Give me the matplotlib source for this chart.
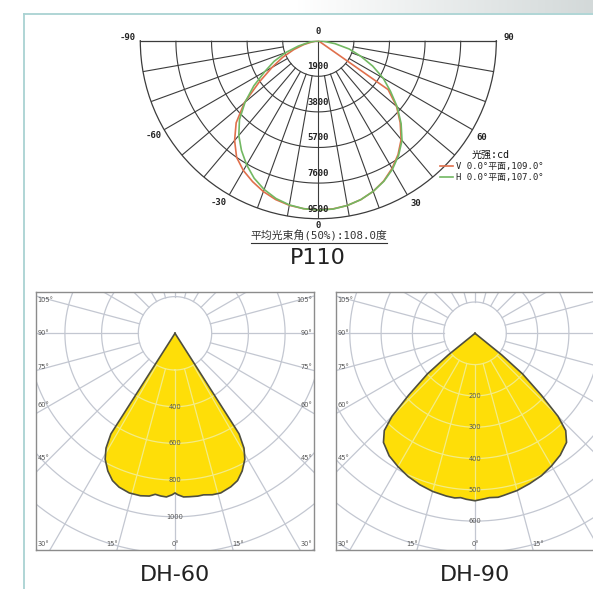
import numpy as np
import matplotlib
matplotlib.use("Agg")
import matplotlib.pyplot as plt
from matplotlib.lines import Line2D
from matplotlib.colors import LinearSegmentedColormap

# ---------------- data ----------------
p110_angles = [-90, -85, -80, -75, -70, -65, -60, -55, -50, -45, -40, -35, -30, -25, -20, -15, -10, -5, 0,
               5, 10, 15, 20, 25, 30, 35, 40, 45, 50, 55, 60, 65, 70, 75, 80, 85, 90]
p110_v = [0, 0, 300, 800, 1400, 2100, 2850, 3850, 5150, 6200, 6950, 7600, 8000, 8300, 8570, 8780, 8920, 9000, 9030,
          9010, 8930, 8780, 8560, 8260, 7870, 7420, 6880, 6180, 5450, 4550, 0, 0, 0, 0, 0, 0, 0]
p110_h = [0, 100, 500, 1100, 1850, 2600, 3300, 4200, 5100, 5950, 6600, 7150, 7650, 8100, 8450, 8720, 8900, 9000, 9040,
          9020, 8930, 8780, 8560, 8280, 7920, 7470, 6950, 6250, 5500, 4700, 4000, 3200, 2400, 1700, 900, 250, 0]
p110_rings = [1900, 3800, 5700, 7600, 9500]
p110_angle_labels = ["-90", "-60", "-30", "0", "30", "60", "90"]
p110_legend_title = "光强:cd"
p110_legend = ["V 0.0°平面,109.0°", "H 0.0°平面,107.0°"]
p110_beam = "平均光束角(50%):108.0度"

dh60_angles = [-33, -32.5, -31, -29, -26, -23, -20, -16, -12, -9, -7, -5, -3, -1, 0,
               1, 3, 5, 8, 10, 13, 16, 20, 23, 26, 29, 31, 32.5, 33]
dh60_cd = [0, 650, 730, 785, 835, 872, 892, 905, 905, 898, 884, 890, 893, 880, 870,
           880, 893, 894, 896, 894, 903, 905, 890, 872, 835, 785, 730, 650, 0]
dh60_rings = [200, 400, 600, 800, 1000, 1200, 1400]
dh60_ring_labels = [400, 600, 800, 1000]

dh90_angles = [-52, -51, -49.5, -47, -45, -43, -40, -35, -30, -25, -20, -15, -10, -7, -5, -3, 0,
               3, 5, 8, 10, 15, 20, 25, 30, 35, 40, 43, 45, 47, 49.5, 51, 52]
dh90_cd = [0, 110, 200, 290, 375, 425, 455, 478, 492, 505, 515, 523, 528, 530, 527, 531, 535,
           530, 527, 529, 526, 520, 511, 502, 489, 475, 455, 425, 375, 290, 200, 110, 0]
dh90_rings = [100, 200, 300, 400, 500, 600, 700, 800]
dh90_ring_labels = [200, 300, 400, 500, 600]

side_angles = [105, 90, 75, 60, 45]
bottom_angles = [-30, -15, 0, 15, 30]

# ---------------- figure ----------------
W, H = 593, 589
fig = plt.figure(figsize=(W / 100, H / 100), dpi=100)
fig.patch.set_facecolor("white")


def fx(x):
    return x / W


def fy(y):
    return 1 - y / H


# top gradient banner
axbg = fig.add_axes([0, fy(13.5), 1, 13.5 / H])
grad = np.clip((np.linspace(0, 1, 593) - 0.5) / 0.5, 0, 1)[None, :]
cmap = LinearSegmentedColormap.from_list("g", ["#ffffff", "#d3d9d9"])
axbg.imshow(grad, aspect="auto", cmap=cmap, vmin=0, vmax=1)
axbg.axis("off")
fig.add_artist(Line2D([fx(24), fx(593)], [fy(13.8), fy(13.8)], color="#a9d2d2", lw=1.3))
fig.add_artist(Line2D([fx(24.5), fx(24.5)], [fy(13.8), fy(589)], color="#a9d2d2", lw=1.3))

# ---------------- P110 polar ----------------
cx, cy, R = 318.3, 40.7, 178.0
# square box; the half-disk wedge is centred vertically inside it
box_cy = cy + R / 2
axp = fig.add_axes([fx(cx - R), fy(box_cy + R), 2 * R / W, 2 * R / H], projection="polar")
axp.set_theta_zero_location("S")
axp.set_thetamin(-90)
axp.set_thetamax(90)
axp.set_ylim(0, p110_rings[-1])
axp.grid(False)
axp.set_xticks([])
axp.set_yticks([])
axp.patch.set_alpha(0)
gcol = "#3c3c3c"
for sp in axp.spines.values():
    sp.set_color(gcol)
    sp.set_linewidth(0.9)

t = np.linspace(-np.pi / 2, np.pi / 2, 181)
for r in p110_rings[:-1]:
    axp.plot(t, np.full_like(t, r), color=gcol, lw=0.8)
for a in range(-80, 81, 10):
    r0 = 0 if a == 0 else p110_rings[0]
    axp.plot([np.deg2rad(a)] * 2, [r0, p110_rings[-1]], color=gcol, lw=0.8)

red, green = "#e0704c", "#72b862"
axp.plot(np.deg2rad(p110_angles), p110_v, color=red, lw=1.2, zorder=5)
axp.plot(np.deg2rad(p110_angles), p110_h, color=green, lw=1.2, zorder=5)

mono = ["DejaVu Sans Mono", "Noto Sans CJK SC"]
for r in p110_rings:
    axp.text(0, r - 510, str(r), ha="center", va="center", fontsize=6.5,
             family=mono, weight="bold", color="#222222", zorder=6)

label_pos = {"-90": (-91.1, 10150), "-60": (-60, 10150), "-30": (-31.5, 10150),
             "30": (31, 10120), "60": (59.5, 10150), "90": (91.1, 10150)}
for lab in p110_angle_labels:
    if lab == "0":
        axp.text(np.pi, 470, lab, ha="center", va="center", fontsize=6.5, family=mono,
                 weight="bold", color="#222222", clip_on=False)
        axp.text(0, 9880, lab, ha="center", va="center", fontsize=6.5, family=mono,
                 weight="bold", color="#222222", clip_on=False)
    else:
        a, r = label_pos[lab]
        axp.text(np.deg2rad(a), r, lab, ha="center", va="center", fontsize=6.5, family=mono,
                 weight="bold", color="#222222", clip_on=False)

# legend
fig.text(fx(491), fy(155), p110_legend_title, ha="center", va="center", fontsize=7.2,
         family=mono, color="#111111")
for i, (lab, col) in enumerate(zip(p110_legend, [red, green])):
    yy = 166 + 11 * i
    fig.add_artist(Line2D([fx(440), fx(453)], [fy(yy), fy(yy)], color=col, lw=1.2))
    fig.text(fx(456), fy(yy), lab, ha="left", va="center", fontsize=6.4, family=mono,
             color="#222222")

# beam angle (underlined)
tb = fig.text(fx(319), fy(235.5), p110_beam, ha="center", va="center", fontsize=7.8,
              family=mono, color="#333333")
fig.canvas.draw()
bb = tb.get_window_extent()
fig.add_artist(Line2D([bb.x0 / W, bb.x1 / W], [(bb.y0 - 1.5) / H] * 2, color="#333333", lw=0.8))

fig.text(fx(318), fy(258), "P110", ha="center", va="center", fontsize=16,
         family="DejaVu Sans", color="#222222")

# ---------------- DH panels ----------------
yellow = "#fede08"
gray_grid = "#c3c7d1"
light_grid = "#f3ec86"
outline = "#4e4e3e"
lab_kw = dict(fontsize=4.8, color="#555555", zorder=5)


def panel(left, s, angles, cd, rings, ring_labels, title):
    top, wpx, hpx, off = 292.0, 278.0, 258.0, 139.0
    cyp = 333.3
    ax = fig.add_axes([fx(left), fy(top + hpx), wpx / W, hpx / H])
    x0, x1 = -off / s, (wpx - off) / s
    y0, y1 = -(top + hpx - cyp) / s, (cyp - top) / s
    ax.set_xlim(x0, x1)
    ax.set_ylim(y0, y1)
    ax.set_xticks([])
    ax.set_yticks([])
    for sp in ax.spines.values():
        sp.set_color("#8c8c8c")
        sp.set_linewidth(1.0)
    show_right = left + wpx <= W

    def grid(color, lw, z):
        arts = []
        tt = np.linspace(0, 2 * np.pi, 361)
        for r in rings:
            arts += ax.plot(r * np.sin(tt), -r * np.cos(tt), color=color, lw=lw, zorder=z)
        rmax = rings[-1] * 1.3
        for a in range(0, 360, 15):
            th = np.deg2rad(a)
            arts += ax.plot([rings[0] * np.sin(th), rmax * np.sin(th)],
                            [-rings[0] * np.cos(th), -rmax * np.cos(th)],
                            color=color, lw=lw, zorder=z)
        return arts

    grid(gray_grid, 0.9, 1)
    th = np.deg2rad(angles)
    xs = np.array(cd) * np.sin(th)
    ys = -np.array(cd) * np.cos(th)
    poly = ax.fill(xs, ys, color=yellow, lw=0, zorder=2)[0]
    for art in grid(light_grid, 0.9, 3):
        art.set_clip_path(poly)
    ax.plot(np.append(xs, xs[0]), np.append(ys, ys[0]), color=outline, lw=1.2, zorder=4)

    for r in ring_labels:
        ax.text(0, -r, str(r), ha="center", va="center", **lab_kw)

    d = 125.0 / s
    for phi in side_angles:
        p = np.deg2rad(phi)
        yv = -d * np.cos(p) / np.sin(p)
        ax.text(x0 + 1.5 / s, yv, f"{phi}°", ha="left", va="center", **lab_kw)
        if show_right:
            ax.text(x1 - 1.5 / s, yv, f"{phi}°", ha="right", va="center", **lab_kw)
    yb = -(544 - cyp) / s
    for phi in bottom_angles:
        xl = -yb * np.tan(np.deg2rad(phi))
        lab = f"{abs(phi)}°"
        if phi == 0:
            ax.text(0, yb, lab, ha="center", va="center", **lab_kw)
        elif abs(phi) == 30:
            if phi < 0:
                ax.text(x0 + 1.5 / s, yb, lab, ha="left", va="center", **lab_kw)
            elif show_right:
                ax.text(x1 - 1.5 / s, yb, lab, ha="right", va="center", **lab_kw)
        else:
            if phi < 0:
                ax.text(xl - 1 / s, yb, lab, ha="right", va="center", **lab_kw)
            else:
                ax.text(xl + 1 / s, yb, lab, ha="left", va="center", **lab_kw)

    fig.text(fx(left + off), fy(575), title, ha="center", va="center", fontsize=16,
             family="DejaVu Sans", color="#222222")
    return ax


panel(36.0, 36.7 / 200, dh60_angles, dh60_cd, dh60_rings, dh60_ring_labels, "DH-60")
panel(336.0, 31.3 / 100, dh90_angles, dh90_cd, dh90_rings, dh90_ring_labels, "DH-90")

fig.savefig("out.png", dpi=100, facecolor="white")
